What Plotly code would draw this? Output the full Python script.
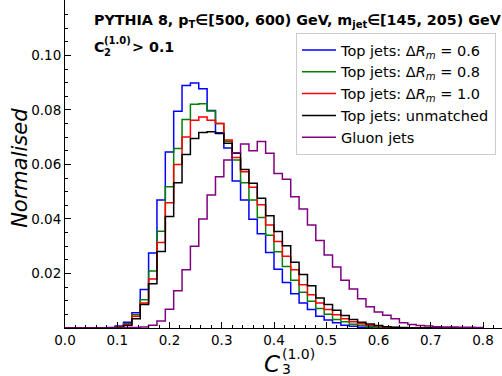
import numpy as np
import plotly.graph_objects as go

# ---------------- data (bin width 0.016, 50 bins from 0 to 0.8) ----------------
bin_width = 0.016
n_bins = 50

top_dr06 = [0, 0, 0, 0, 0, 0.0002, 0.0007, 0.0021, 0.0056, 0.0141,
            0.0275, 0.0470, 0.0646, 0.0795, 0.0890, 0.0899, 0.0878, 0.0798, 0.0716, 0.0660,
            0.0539, 0.0470, 0.0399, 0.0346, 0.0277, 0.0216, 0.0167, 0.0126, 0.0092, 0.0068,
            0.0043, 0.0029, 0.0019, 0.0010, 0.0006, 0.0003, 0.0002, 0, 0, 0,
            0, 0, 0, 0, 0, 0, 0, 0, 0, 0]
top_dr08 = [0, 0, 0, 0, 0, 0.0001, 0.0004, 0.0016, 0.0049, 0.0104,
            0.0209, 0.0355, 0.0518, 0.0659, 0.0765, 0.0821, 0.0823, 0.0796, 0.0750, 0.0685,
            0.0616, 0.0533, 0.0470, 0.0405, 0.0340, 0.0280, 0.0226, 0.0175, 0.0131, 0.0098,
            0.0072, 0.0050, 0.0031, 0.0023, 0.0014, 0.0009, 0.0005, 0.0003, 0.0002, 0,
            0, 0, 0, 0, 0, 0, 0, 0, 0, 0]
top_dr10 = [0, 0, 0, 0, 0, 0.0001, 0.0003, 0.0013, 0.0043, 0.0092,
            0.0180, 0.0314, 0.0460, 0.0600, 0.0701, 0.0762, 0.0774, 0.0762, 0.0750, 0.0690,
            0.0626, 0.0573, 0.0516, 0.0452, 0.0378, 0.0317, 0.0263, 0.0214, 0.0159, 0.0122,
            0.0092, 0.0068, 0.0049, 0.0034, 0.0023, 0.0016, 0.0010, 0.0007, 0.0004, 0.0002,
            0, 0, 0, 0, 0, 0, 0, 0, 0, 0]
top_unmatched = [0, 0, 0, 0, 0, 0.0001, 0.0002, 0.0009, 0.0034, 0.0086,
                 0.0162, 0.0281, 0.0409, 0.0533, 0.0637, 0.0695, 0.0717, 0.0720, 0.0714, 0.0678,
                 0.0641, 0.0582, 0.0531, 0.0476, 0.0412, 0.0354, 0.0302, 0.0241, 0.0196, 0.0155,
                 0.0110, 0.0086, 0.0065, 0.0046, 0.0031, 0.0021, 0.0015, 0.0009, 0.0005, 0.0003,
                 0.0002, 0, 0, 0, 0, 0, 0, 0, 0, 0]
gluon = [0, 0, 0, 0, 0, 0, 0, 0.0001, 0.0002, 0.0004,
         0.0010, 0.0026, 0.0069, 0.0137, 0.0214, 0.0300, 0.0400, 0.0488, 0.0555, 0.0616,
         0.0643, 0.0675, 0.0650, 0.0684, 0.0641, 0.0567, 0.0546, 0.0482, 0.0437, 0.0378,
         0.0321, 0.0268, 0.0224, 0.0175, 0.0143, 0.0107, 0.0078, 0.0059, 0.0047, 0.0034,
         0.0019, 0.0013, 0.0009, 0.0007, 0.0005, 0.0004, 0.0004, 0.0003, 0.0003, 0.0002]

series_names = ["Top jets: Δ<i>R</i><sub><i>m</i></sub> = 0.6",
                "Top jets: Δ<i>R</i><sub><i>m</i></sub> = 0.8",
                "Top jets: Δ<i>R</i><sub><i>m</i></sub> = 1.0",
                "Top jets: unmatched",
                "Gluon jets"]
series_values = [top_dr06, top_dr08, top_dr10, top_unmatched, gluon]
series_colors = ["#0000ff", "#008000", "#ff0000", "#000000", "#800080"]

x_ticks = [0.0, 0.1, 0.2, 0.3, 0.4, 0.5, 0.6, 0.7, 0.8]
y_ticks = [0.02, 0.04, 0.06, 0.08, 0.10]

# ---------------- layout geometry ----------------
W, H = 502, 376
ML, MB = 65, 47.7
plot_w = W - ML
plot_h = H - MB
X_MAX = plot_w / 522.5
Y_MAX = plot_h / 2728.0


def px2x(px):
    return (px - ML) / plot_w


def py2y(py):
    return (plot_h - py) / plot_h


edges = [round(i * bin_width, 4) for i in range(n_bins + 1)]

fig = go.Figure()
for name, vals, col in zip(series_names, series_values, series_colors):
    yv = list(vals) + [vals[-1]]
    fig.add_trace(go.Scatter(x=edges, y=yv, mode="lines", name=name,
                             line=dict(color=col, width=1.5, shape="hv")))

FONT = "DejaVu Sans"

fig.update_layout(
    width=W, height=H,
    margin=dict(l=ML, r=0, t=0, b=MB, pad=0),
    paper_bgcolor="white", plot_bgcolor="white",
    font=dict(family=FONT, color="black", size=13.5),
    showlegend=True,
    legend=dict(x=px2x(296), y=py2y(33), xanchor="left", yanchor="top",
                bgcolor="rgba(255,255,255,0.85)", bordercolor="#cccccc", borderwidth=1,
                font=dict(family=FONT, size=14.5, color="black"),
                tracegroupgap=0, itemwidth=34),
)

fig.update_xaxes(range=[0, X_MAX], showline=True, linecolor="black", linewidth=1,
                 ticks="inside", ticklen=6, tickwidth=1, tickcolor="black",
                 tickvals=x_ticks, tickformat=".1f", showgrid=False, zeroline=False,
                 minor=dict(dtick=0.02, tick0=0, ticks="inside", ticklen=3, tickcolor="black", showgrid=False),
                 tickfont=dict(size=13.5, family=FONT))
fig.update_yaxes(range=[0, Y_MAX], showline=True, linecolor="black", linewidth=1,
                 ticks="inside", ticklen=6, tickwidth=1, tickcolor="black",
                 tickvals=y_ticks, tickformat=".2f", showgrid=False, zeroline=False,
                 minor=dict(dtick=0.005, tick0=0, ticks="inside", ticklen=3, tickcolor="black", showgrid=False),
                 tickfont=dict(size=13.5, family=FONT))


def paper_text(text, px, py, size, xanchor="left", angle=0):
    return dict(text=text, x=px2x(px), y=py2y(py), xref="paper", yref="paper",
                xanchor=xanchor, yanchor="middle", textangle=angle, showarrow=False,
                font=dict(family=FONT, size=size, color="black"))


ann = [
    paper_text("<b>PYTHIA 8, p<sub>T</sub>∈[500, 600) GeV, m<sub>jet</sub>∈[145, 205) GeV</b>", 92, 21, 14.3),
    # second header line: C_2^(1.0) > 0.1 with stacked sub/superscript
    paper_text("<b>C</b>", 92, 47, 14.3),
    paper_text("<b>(1.0)</b>", 102, 41, 10),
    paper_text("<b>2</b>", 102, 53, 10),
    paper_text("<b>> 0.1</b>", 130, 47, 14.3),
    # y-axis title
    paper_text("<i>Normalised</i>", 20, 168, 21, xanchor="center", angle=-90),
    # x-axis title C_3^(1.0) with stacked sub/superscript
    paper_text("<i>C</i>", 271.5, 364, 23, xanchor="center"),
    paper_text("(1.0)", 280, 354, 14),
    paper_text("3", 280, 369, 14),
]
fig.update_layout(annotations=ann)

fig.write_html("out.html")
